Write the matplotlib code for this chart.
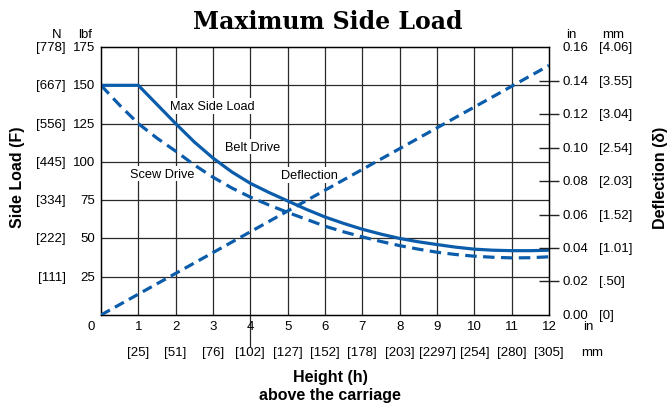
import matplotlib
matplotlib.use("Agg")
import matplotlib.pyplot as plt

plt.rcParams['font.family'] = ['Liberation Sans', 'DejaVu Sans']

# data (every half inch)
height = [0, 0.5, 1, 1.5, 2, 2.5, 3, 3.5, 4, 4.5, 5, 5.5, 6, 6.5, 7, 7.5, 8,
          8.5, 9, 9.5, 10, 10.5, 11, 11.5, 12]
max_side_load = [150, 150, 150, 137.5, 125, 113, 102.5, 93.5, 86, 80, 74.5, 69,
                 64, 59.8, 56, 52.8, 50, 47.8, 46, 44.3, 43, 42.3, 42, 42, 42.3]
scew_drive = [150, 137, 125, 115.5, 107, 98, 90, 83, 77, 71.8, 67, 62.5, 58,
              54.3, 51, 48, 45.3, 43, 41, 39.5, 38.4, 37.7, 37.3, 37.4, 38]
defl_h = [0, 12]
deflection = [0, 0.149]

lbf_ticks = [25, 50, 75, 100, 125, 150, 175]
n_labels = ['[111]', '[222]', '[334]', '[445]', '[556]', '[667]', '[778]']
in_ticks = [0.00, 0.02, 0.04, 0.06, 0.08, 0.10, 0.12, 0.14, 0.16]
in_labels = ['0.00', '0.02', '0.04', '0.06', '0.08', '0.10', '0.12', '0.14', '0.16']
mm_labels = ['[0]', '[.50]', '[1.01]', '[1.52]', '[2.03]', '[2.54]', '[3.04]', '[3.55]', '[4.06]']
h_mm = ['[25]', '[51]', '[76]', '[102]', '[127]', '[152]', '[178]', '[203]',
        '[2297]', '[254]', '[280]', '[305]']

blue = '#0b5cab'
grid = '#2a2a2a'

fig = plt.figure(figsize=(6.67, 4.06), dpi=100)
ax = fig.add_axes([0.1514, 0.2217, 0.6717, 0.660])
ax.set_xlim(0, 12)
ax.set_ylim(0, 175)

# grid
for x in range(1, 12):
    ax.axvline(x, color=grid, lw=0.9, zorder=1)
for y in lbf_ticks[:-1]:
    ax.axhline(y, color=grid, lw=0.9, zorder=1)
# stray line below x=4 as in the original
ax.plot([4, 4], [0, -20], color=grid, lw=0.9, clip_on=False)

for s in ax.spines.values():
    s.set_linewidth(1.0)
ax.set_xticks([])
ax.set_yticks([])

ax.plot(height, max_side_load, color=blue, lw=2.3, zorder=3, solid_capstyle='butt')
ax.plot(height, scew_drive, color=blue, lw=2.3, ls=(0, (3.6, 2)), zorder=3)

ax2 = ax.twinx()
ax2.set_ylim(0, 0.16)
ax2.plot(defl_h, deflection, color=blue, lw=2.3, ls=(0, (3.2, 1.8)), zorder=3)
ax2.set_yticks(in_ticks[1:-1])
ax2.set_yticklabels([])
ax2.tick_params(axis='y', direction='inout', length=14, width=1.0, color='#222222')
ax2.set_xlim(0, 12)

lab = dict(fontsize=9.2, ha='center', va='center', zorder=2,
           bbox=dict(facecolor='white', edgecolor='none', pad=1.2))
ax.text(2.99, 136.5, 'Max Side Load', **lab)
ax.text(4.06, 110, 'Belt Drive', **lab)
ax.text(1.64, 92.4, 'Scew Drive', **lab)
ax.text(5.58, 91.5, 'Deflection', **lab)

# left tick labels
ty = ax.get_yaxis_transform()
for v, n in zip(lbf_ticks, n_labels):
    ax.text(-0.013, v, str(v), transform=ty, ha='right', va='center', fontsize=9.5)
    ax.text(-0.078, v, n, transform=ty, ha='right', va='center', fontsize=9.5)
ax.text(-0.036, 1.05, 'lbf', transform=ax.transAxes, ha='center', va='center', fontsize=9.5)
ax.text(-0.098, 1.05, 'N', transform=ax.transAxes, ha='center', va='center', fontsize=9.5)

# right tick labels
ty2 = ax2.get_yaxis_transform()
for v, t, m in zip(in_ticks, in_labels, mm_labels):
    ax2.text(1.031, v, t, transform=ty2, ha='left', va='center', fontsize=9.5)
    ax2.text(1.112, v, m, transform=ty2, ha='left', va='center', fontsize=9.5)
ax2.text(1.049, 1.05, 'in', transform=ax2.transAxes, ha='center', va='center', fontsize=9.5)
ax2.text(1.143, 1.05, 'mm', transform=ax2.transAxes, ha='center', va='center', fontsize=9.5)

# x tick labels
tx = ax.get_xaxis_transform()
ax.text(-0.25, -0.041, '0', transform=tx, ha='center', va='center', fontsize=9.5)
for i in range(1, 13):
    ax.text(i, -0.041, str(i), transform=tx, ha='center', va='center', fontsize=9.5)
    ax.text(i, -0.138, h_mm[i - 1], transform=tx, ha='center', va='center', fontsize=9.5)
ax.text(13.05, -0.041, 'in', transform=tx, ha='center', va='center', fontsize=9.5)
ax.text(13.15, -0.138, 'mm', transform=tx, ha='center', va='center', fontsize=9.5)

fig.text(0.495, 1 - 378 / 406, 'Height (h)', ha='center', va='center',
         fontsize=11.5, fontweight='bold')
fig.text(0.495, 1 - 396 / 406, 'above the carriage', ha='center', va='center',
         fontsize=11.5, fontweight='bold')
fig.text(18 / 667, 1 - 177 / 406, 'Side Load (F)', rotation=90, ha='center',
         va='center', fontsize=11.5, fontweight='bold')
fig.text(660 / 667, 1 - 178 / 406, 'Deflection (δ)', rotation=90, ha='center',
         va='center', fontsize=11.5, fontweight='bold')
fig.text(328 / 667, 1 - 22 / 406, 'Maximum Side Load', ha='center', va='center',
         fontsize=17, fontweight='bold', family='DejaVu Serif')

fig.savefig('out.png', dpi=100)
